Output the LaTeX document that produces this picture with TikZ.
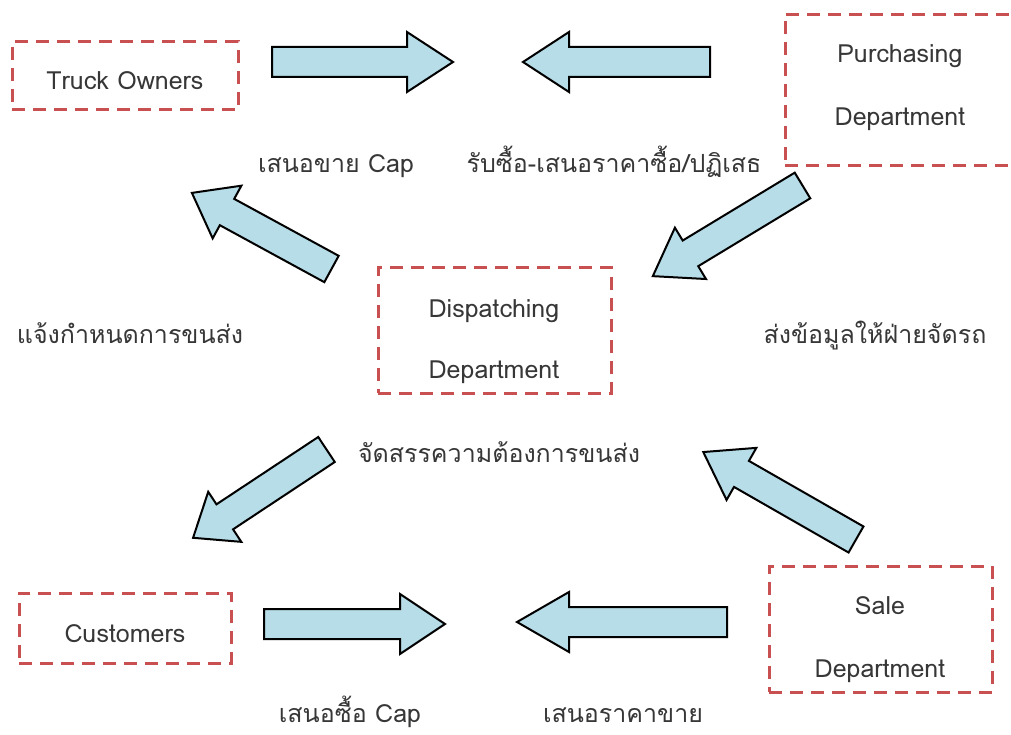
\documentclass[tikz,border=0pt]{standalone}
\usepackage{fontspec}
\setmainfont[Script=Thai]{Loma}
\definecolor{arrowblue}{RGB}{183,221,232}
\definecolor{boxred}{RGB}{200,80,80}
\definecolor{textgray}{RGB}{55,55,55}
% block arrow: tail point, direction angle, total length, head length
\newcommand\BlockArrow[4]{%
  \begin{scope}[shift={#1}, rotate=#2]
    \draw[blockarrow] (0,-15) -- (#3-#4,-15) -- (#3-#4,-30) -- (#3,0)
      -- (#3-#4,30) -- (#3-#4,15) -- (0,15) -- cycle;
  \end{scope}}
\begin{document}
\begin{tikzpicture}[x=1pt,y=-1pt,
  box/.style={draw=boxred, dash pattern=on 13pt off 8pt, line width=3pt,
    rectangle, inner sep=0pt},
  lbl/.style={anchor=base, text=textgray, font=\fontsize{25}{30}\selectfont,
    inner sep=0pt},
  blockarrow/.style={draw=black, fill=arrowblue, line width=2pt, line join=miter}]
\useasboundingbox (0,0) rectangle (1011,735);
\fill[white] (0,0) rectangle (1011,735);

% departments
\node[box, minimum width=226pt, minimum height=68pt] (truck) at (125,76) {};
\node[lbl] (truckT) at (125,90) {Truck Owners};

\node[box, minimum width=236pt, minimum height=151pt] (purch) at (903,90) {};
\node[lbl] (purchA) at (900,63) {Purchasing};
\node[lbl] (purchB) at (900,126) {Department};

\node[box, minimum width=233pt, minimum height=126pt] (disp) at (494.5,330) {};
\node[lbl] (dispA) at (494,317) {Dispatching};
\node[lbl] (dispB) at (494,378) {Department};

\node[box, minimum width=212pt, minimum height=70pt] (cust) at (125,628) {};
\node[lbl] (custT) at (125,642) {Customers};

\node[box, minimum width=223pt, minimum height=126pt] (sale) at (880.5,629) {};
\node[lbl] (saleA) at (880,614) {Sale};
\node[lbl] (saleB) at (880,677) {Department};

% flows
\BlockArrow{(272,62)}{0}{181}{46}
\BlockArrow{(710,62)}{180}{187}{46}
\BlockArrow{(331.5,269)}{151.4}{159}{40}
\BlockArrow{(802.5,185.5)}{211.2}{175}{44}
\BlockArrow{(326.5,449.5)}{213.5}{160}{38}
\BlockArrow{(856,539.5)}{150.2}{176}{44}
\BlockArrow{(264,624)}{0}{181}{45}
\BlockArrow{(727,622)}{180}{210}{52}

% flow labels
\node[lbl] (l1) at (336,173) {เสนอขาย Cap};
\node[lbl] (l2) at (614,173) {รับซื้อ-เสนอราคาซื้อ/ปฏิเสธ};
\node[lbl] (l3) at (130,343) {แจ้งกำหนดการขนส่ง};
\node[lbl] (l4) at (875,343) {ส่งข้อมูลให้ฝ่ายจัดรถ};
\node[lbl] (l5) at (499,462) {จัดสรรความต้องการขนส่ง};
\node[lbl] (l6) at (350,722) {เสนอซื้อ Cap};
\node[lbl] (l7) at (623,722) {เสนอราคาขาย};
\end{tikzpicture}
\end{document}
